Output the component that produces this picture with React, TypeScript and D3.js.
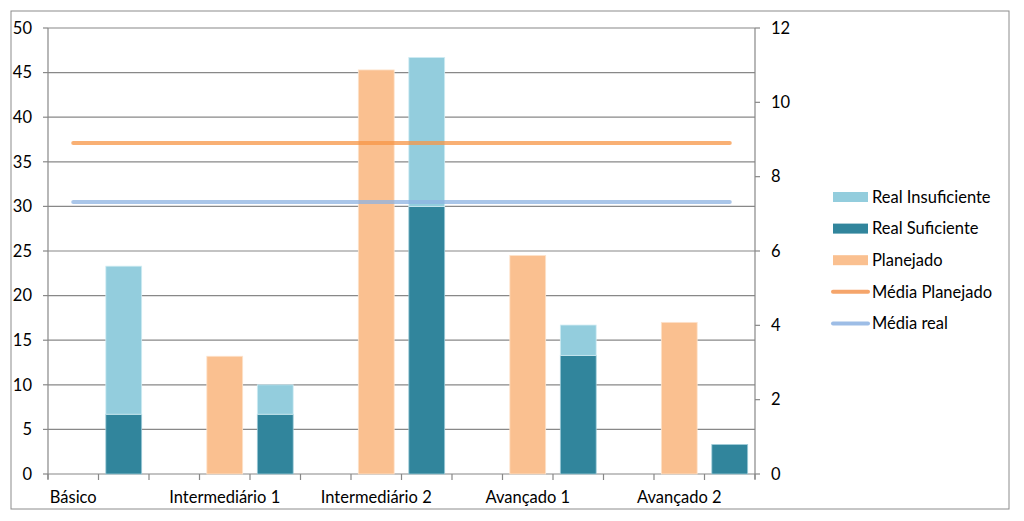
import React from "react";
import * as d3 from "d3";

const groups = ["Básico", "Intermediário 1", "Intermediário 2", "Avançado 1", "Avançado 2"];
const planejado = [0, 13.2, 45.3, 24.5, 17.0];
const realSuficiente = [6.7, 6.7, 30.0, 13.3, 3.3];
const realInsuficiente = [16.6, 3.3, 16.7, 3.4, 0];
const mediaPlanejado = 37.1;
const mediaReal = 30.5;
const leftTicks = [0, 5, 10, 15, 20, 25, 30, 35, 40, 45, 50];
const rightTicks = [0, 2, 4, 6, 8, 10, 12];

const legendItems = [
  { label: "Real Insuficiente", kind: "rect", color: "#93CDDD" },
  { label: "Real Suficiente", kind: "rect", color: "#31859C" },
  { label: "Planejado", kind: "rect", color: "#FAC090" },
  { label: "Média Planejado", kind: "line", color: "#F5A56B" },
  { label: "Média real", kind: "line", color: "#9DBDE6" },
];

const FONT = "Lato, 'Open Sans', sans-serif";
const FS = 16.5;

export default function App() {
  const W = 1024, H = 521;
  const left = 48, right = 755, top = 28, bottom = 474;

  const slots: string[] = groups.flatMap((g, i) =>
    i < groups.length - 1 ? [g + "|plan", g + "|real", g + "|gap"] : [g + "|plan", g + "|real"]
  );
  const x = d3.scaleBand<string>().domain(slots).range([left, right]).paddingInner(0.29).paddingOuter(0.145);
  const xFull = d3.scaleBand<string>().domain(slots).range([left, right]);
  const y = d3.scaleLinear().domain([0, 50]).range([bottom, top]);
  const y2 = d3.scaleLinear().domain([0, 12]).range([bottom, top]);

  const bw = x.bandwidth();
  const lineX0 = xFull(slots[0])! + xFull.bandwidth() / 2;
  const lineX1 = xFull(slots[slots.length - 1])! + xFull.bandwidth() / 2;
  const tickXs = slots.map((s) => xFull(s)!).concat([right]);

  return (
    <svg width={W} height={H} style={{ position: "absolute", left: 0, top: 0, background: "#fff" }} fontFamily={FONT}>
      <rect x={11} y={11} width={998} height={498} fill="#fff" stroke="#8c8c8c" strokeWidth={1} />
      {/* gridlines */}
      {leftTicks.map((t) => (
        <line key={"g" + t} x1={left} x2={right} y1={y(t)} y2={y(t)} stroke="#888" strokeWidth={1.2} />
      ))}
      {/* bars */}
      {groups.map((g, i) => (
        <g key={g}>
          {planejado[i] > 0 && (
            <rect x={x(g + "|plan")} y={y(planejado[i])} width={bw} height={y(0) - y(planejado[i])} fill="#FAC090" stroke="#fde3cc" strokeWidth={0.8} />
          )}
          <rect x={x(g + "|real")} y={y(realSuficiente[i])} width={bw} height={y(0) - y(realSuficiente[i])} fill="#31859C" stroke="#9fcbd8" strokeWidth={0.8} />
          {realInsuficiente[i] > 0 && (
            <rect
              x={x(g + "|real")}
              y={y(realSuficiente[i] + realInsuficiente[i])}
              width={bw}
              height={y(realSuficiente[i]) - y(realSuficiente[i] + realInsuficiente[i])}
              fill="#93CDDD"
              stroke="#d0ecf3"
              strokeWidth={0.8}
            />
          )}
        </g>
      ))}
      {/* average lines */}
      <line x1={lineX0} x2={lineX1} y1={y(mediaPlanejado)} y2={y(mediaPlanejado)} stroke="#F79646" strokeOpacity={0.75} strokeWidth={4} strokeLinecap="round" />
      <line x1={lineX0} x2={lineX1} y1={y(mediaReal)} y2={y(mediaReal)} stroke="#8DB3E2" strokeOpacity={0.75} strokeWidth={4} strokeLinecap="round" />
      {/* left axis */}
      <line x1={left} x2={left} y1={top} y2={bottom + 5} stroke="#888" strokeWidth={1.2} />
      {leftTicks.map((t) => (
        <g key={"l" + t}>
          <line x1={left - 5} x2={left} y1={y(t)} y2={y(t)} stroke="#888" strokeWidth={1.2} />
          <text x={32} y={y(t)} dy="0.35em" textAnchor="end" fontSize={FS} fill="#000">{t}</text>
        </g>
      ))}
      {/* right axis */}
      <line x1={right} x2={right} y1={top} y2={bottom + 5} stroke="#888" strokeWidth={1.2} />
      {rightTicks.map((t) => (
        <g key={"r" + t}>
          <line x1={right} x2={right + 5} y1={y2(t)} y2={y2(t)} stroke="#888" strokeWidth={1.2} />
          <text x={771} y={y2(t)} dy="0.35em" textAnchor="start" fontSize={FS} fill="#000">{t}</text>
        </g>
      ))}
      {/* x axis */}
      {tickXs.map((tx, i) => (
        <line key={"xt" + i} x1={tx} x2={tx} y1={bottom} y2={bottom + 6} stroke="#888" strokeWidth={1.2} />
      ))}
      {groups.map((g) => (
        <text key={"xl" + g} x={xFull(g + "|plan")! + xFull.bandwidth() / 2} y={497} dy="0.35em" textAnchor="middle" fontSize={FS} fill="#000">
          {g}
        </text>
      ))}
      {/* legend */}
      {legendItems.map((it, i) => {
        const cy = 197 + i * 31.6;
        return (
          <g key={it.label}>
            {it.kind === "rect" ? (
              <rect x={833} y={cy - 5} width={35} height={10} fill={it.color} />
            ) : (
              <line x1={833} x2={868} y1={cy} y2={cy} stroke={it.color} strokeWidth={4} strokeLinecap="round" />
            )}
            <text x={872} y={cy} dy="0.35em" fontSize={FS} fill="#000">{it.label}</text>
          </g>
        );
      })}
    </svg>
  );
}
